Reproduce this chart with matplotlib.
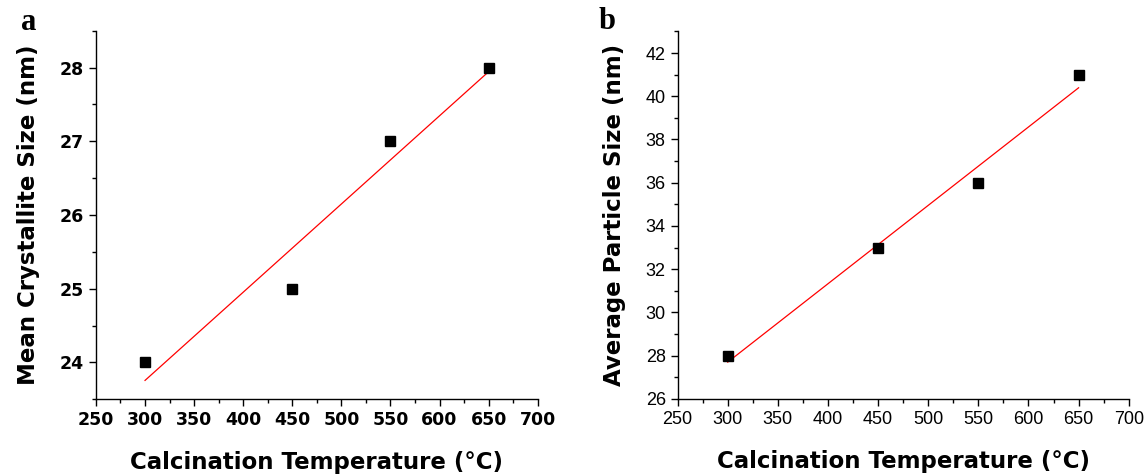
import matplotlib
matplotlib.use("Agg")
import matplotlib.pyplot as plt
import numpy as np
from matplotlib.ticker import MultipleLocator

# calcination temperature (degC)
temps = [300, 450, 550, 650]
# mean crystallite size (nm), panel a
crystallite = [24, 25, 27, 28]
# average particle size (nm), panel b
particle = [28, 33, 36, 41]

x_ticks = [250, 300, 350, 400, 450, 500, 550, 600, 650, 700]


def style_axes(ax):
    for side in ("top", "right"):
        ax.spines[side].set_visible(False)
    for side in ("left", "bottom"):
        ax.spines[side].set_linewidth(1.0)
    ax.tick_params(which="major", direction="out", length=5, width=1.0)
    ax.tick_params(which="minor", direction="out", length=3, width=1.0)
    ax.xaxis.set_minor_locator(MultipleLocator(25))


def draw_panel(ax, x, y):
    x = np.array(x, dtype=float)
    y = np.array(y, dtype=float)
    slope, icpt = np.polyfit(x, y, 1)
    xf = np.array([x.min(), x.max()])
    ax.plot(xf, slope * xf + icpt, color="red", linewidth=0.9, zorder=2)
    ax.plot(x, y, linestyle="none", marker="s", markersize=7.5,
            color="black", zorder=3)


fig = plt.figure(figsize=(11.45, 4.76), dpi=100)

# ---- panel a
ax1 = fig.add_axes([0.0838, 0.161, 0.3858, 0.7745])
draw_panel(ax1, temps, crystallite)
style_axes(ax1)
ax1.set_xlim(250, 700)
ax1.set_ylim(23.5, 28.5)
ax1.set_xticks(x_ticks)
ax1.set_yticks([24, 25, 26, 27, 28])
ax1.yaxis.set_minor_locator(MultipleLocator(0.5))
for lab in ax1.get_xticklabels() + ax1.get_yticklabels():
    lab.set_fontfamily("DejaVu Sans")
    lab.set_fontweight("bold")
    lab.set_fontsize(12.5)
ax1.set_xlabel("Calcination Temperature (°C)", fontsize=16.5,
               fontweight="bold", labelpad=16)
ax1.set_ylabel("Mean Crystallite Size (nm)", fontsize=16.5,
               fontweight="bold", labelpad=14)
fig.text(0.025, 0.952, "a", fontsize=22, fontweight="bold",
         family="Liberation Serif", ha="center", va="center")

# ---- panel b
ax2 = fig.add_axes([0.5918, 0.162, 0.394, 0.772])
draw_panel(ax2, temps, particle)
style_axes(ax2)
ax2.set_xlim(250, 700)
ax2.set_ylim(26, 43)
ax2.set_xticks(x_ticks)
ax2.set_yticks([26, 28, 30, 32, 34, 36, 38, 40, 42])
ax2.yaxis.set_minor_locator(MultipleLocator(1))
for lab in ax2.get_xticklabels() + ax2.get_yticklabels():
    lab.set_fontfamily("Liberation Sans")
    lab.set_fontsize(13)
ax2.set_xlabel("Calcination Temperature (°C)", fontsize=16.5,
               fontweight="bold", labelpad=16)
ax2.set_ylabel("Average Particle Size (nm)", fontsize=16.5,
               fontweight="bold", labelpad=14)
fig.text(0.530, 0.955, "b", fontsize=22, fontweight="bold",
         family="Liberation Serif", ha="center", va="center")

fig.savefig("out.png", dpi=100)
